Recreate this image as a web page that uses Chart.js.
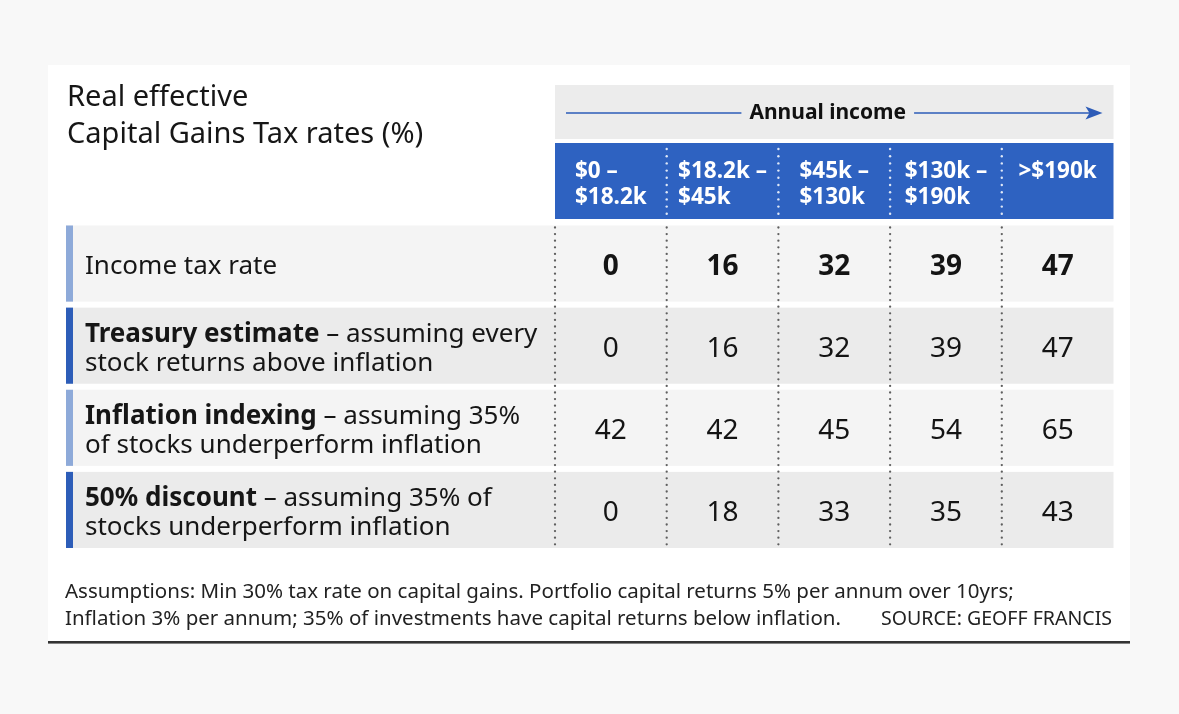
<!DOCTYPE html>
<html>
<head>
<meta charset="utf-8">
<script src="https://cdn.jsdelivr.net/npm/chart.js@4/dist/chart.umd.min.js"></script>
<style>
  html, body { margin: 0; padding: 0; background: #f8f8f8; }
  #wrap { width: 1179px; height: 714px; position: relative; }
</style>
</head>
<body>
<div id="wrap"><canvas id="myChart"></canvas></div>
<script>
"use strict";

// income bands (columns)
const bandKeys = ['b1', 'b2', 'b3', 'b4', 'b5'];
const bandLabels = [
  ['$0 \u2013', '$18.2k'],
  ['$18.2k \u2013', '$45k'],
  ['$45k \u2013', '$130k'],
  ['$130k \u2013', '$190k'],
  ['>$190k']
];

// rows
const rowKeys = ['income', 'treasury', 'indexing', 'discount'];
const rowLabels = [
  [['', 'Income tax rate']],
  [['Treasury estimate', ' \u2013 assuming every'], ['', 'stock returns above inflation']],
  [['Inflation indexing', ' \u2013 assuming 35%'], ['', 'of stocks underperform inflation']],
  [['50% discount', ' \u2013 assuming 35% of'], ['', 'stocks underperform inflation']]
];

// values (%)
const incomeTaxRate = [0, 16, 32, 39, 47];
const treasuryEstimate = [0, 16, 32, 39, 47];
const inflationIndexing = [42, 42, 45, 54, 65];
const fiftyDiscount = [0, 18, 33, 35, 43];
const rowValues = [incomeTaxRate, treasuryEstimate, inflationIndexing, fiftyDiscount];

const titleLines = ['Real effective', 'Capital Gains Tax rates (%)'];
const headerTitle = 'Annual income';
const footLines = [
  'Assumptions: Min 30% tax rate on capital gains. Portfolio capital returns 5% per annum over 10yrs;',
  'Inflation 3% per annum; 35% of investments have capital returns below inflation.'
];
const sourceText = 'SOURCE: GEOFF FRANCIS';

const FONT = '"Noto Sans", "Open Sans", sans-serif';
const blue = '#2e62c1';
const barColors = ['#8eaad9', '#2d5db8', '#8eaad9', '#2d5db8'];
const rowFills = ['#f4f4f4', '#ebebeb', '#f4f4f4', '#ebebeb'];

const points = [];
rowKeys.forEach((rk, r) => {
  bandKeys.forEach((bk, i) => points.push({ x: bk, y: rk, v: rowValues[r][i], r }));
});

const dotLine = (ctx, x, y0, y1, step, color, rad) => {
  ctx.fillStyle = color;
  for (let y = y0; y <= y1; y += step) {
    ctx.beginPath();
    ctx.arc(x, y, rad, 0, Math.PI * 2);
    ctx.fill();
  }
};

const tablePlugin = {
  id: 'table',
  beforeDraw(chart) {
    const { ctx } = chart;
    const x = chart.scales.x, y = chart.scales.y;
    const halfW = (x.getPixelForValue(1) - x.getPixelForValue(0)) / 2;
    const halfH = (y.getPixelForValue(1) - y.getPixelForValue(0)) / 2;
    ctx.save();
    // page + panel
    ctx.fillStyle = '#f8f8f8';
    ctx.fillRect(0, 0, chart.width, chart.height);
    ctx.fillStyle = '#ffffff';
    ctx.fillRect(48, 65, 1082, 579);

    // title
    ctx.fillStyle = '#161616';
    ctx.font = `29px ${FONT}`;
    ctx.textBaseline = 'alphabetic';
    ctx.fillText(titleLines[0], 67, 106);
    ctx.fillText(titleLines[1], 67, 143);

    // header bands
    ctx.fillStyle = '#ececec';
    ctx.fillRect(x.left, 85, x.right - x.left, 54);
    ctx.fillStyle = blue;
    ctx.fillRect(x.left, 143, x.right - x.left, 76);

    // arrow + "Annual income"
    const cx = (x.left + 11 + x.right - 24) / 2;
    ctx.font = `bold 21px ${FONT}`;
    const tw = ctx.measureText(headerTitle).width;
    ctx.fillStyle = '#111';
    ctx.textAlign = 'center';
    ctx.textBaseline = 'middle';
    ctx.fillText(headerTitle, cx, 113);
    ctx.strokeStyle = '#2d5cb8';
    ctx.lineWidth = 1.6;
    ctx.beginPath();
    ctx.moveTo(x.left + 11, 113);
    ctx.lineTo(cx - tw / 2 - 8, 113);
    ctx.moveTo(cx + tw / 2 + 8, 113);
    ctx.lineTo(x.right - 20, 113);
    ctx.stroke();
    ctx.fillStyle = '#2d5cb8';
    ctx.beginPath();
    ctx.moveTo(x.right - 11, 113);
    ctx.lineTo(x.right - 28, 106.5);
    ctx.lineTo(x.right - 24, 113);
    ctx.lineTo(x.right - 28, 119.5);
    ctx.closePath();
    ctx.fill();

    // column headings
    ctx.fillStyle = '#ffffff';
    ctx.textAlign = 'left';
    ctx.textBaseline = 'alphabetic';
    ctx.font = `bold 22.5px ${FONT}`;
    bandLabels.forEach((lines, i) => {
      const c = x.getPixelForValue(i);
      const w = Math.max(...lines.map(l => ctx.measureText(l).width));
      lines.forEach((l, k) => ctx.fillText(l, c - w / 2, 178 + k * 26, halfW * 2 - 12));
    });
    for (let i = 1; i < bandKeys.length; i++) {
      dotLine(ctx, x.getPixelForValue(i) - halfW, 149, 214, 7.2, '#dfe8f7', 1.2);
    }

    // rows
    rowKeys.forEach((rk, r) => {
      const cy = y.getPixelForValue(r);
      ctx.fillStyle = rowFills[r];
      ctx.fillRect(66, cy - halfH + 3, x.right - 66, halfH * 2 - 6);
      ctx.fillStyle = barColors[r];
      ctx.fillRect(66, cy - halfH + 3, 7, halfH * 2 - 6);

      // label text
      const lines = rowLabels[r];
      const base = lines.length === 1 ? [cy + 10] : [cy - 4, cy + 25.5];
      ctx.fillStyle = '#161616';
      lines.forEach(([b, rest], k) => {
        let px = 85;
        if (b) {
          ctx.font = `bold 26px ${FONT}`;
          ctx.fillText(b, px, base[k]);
          px += ctx.measureText(b).width;
        }
        ctx.font = `26px ${FONT}`;
        ctx.fillText(rest, px, base[k]);
      });
    });

    // dotted dividers in body
    const top = y.getPixelForValue(0) - halfH + 3;
    const bot = y.getPixelForValue(rowKeys.length - 1) + halfH - 3;
    for (let i = 0; i < bandKeys.length; i++) {
      dotLine(ctx, x.getPixelForValue(i) - halfW, top + 2, bot, 6.6, '#5e5e5e', 1.15);
    }

    // footer
    ctx.fillStyle = '#222';
    ctx.font = `20.5px ${FONT}`;
    ctx.fillText(footLines[0], 65, 598, 975);
    ctx.fillText(footLines[1], 65, 625, 793);
    ctx.textAlign = 'right';
    ctx.fillText(sourceText, 1112, 625, 231);
    ctx.fillStyle = '#333';
    ctx.fillRect(48, 641, 1082, 2.6);
    ctx.restore();
  },
  afterDatasetsDraw(chart) {
    const { ctx } = chart;
    const meta = chart.getDatasetMeta(0);
    ctx.save();
    ctx.fillStyle = '#141414';
    ctx.textAlign = 'center';
    ctx.textBaseline = 'alphabetic';
    meta.data.forEach((el, idx) => {
      const p = points[idx];
      ctx.font = `${p.r === 0 ? 'bold ' : ''}28px ${FONT}`;
      ctx.fillText(String(p.v), el.x, el.y + 11.5);
    });
    ctx.restore();
  }
};

const ctx = document.getElementById('myChart').getContext('2d');

new Chart(ctx, {
  type: 'scatter',
  data: {
    datasets: [{
      label: 'Real effective CGT rate',
      data: points,
      pointRadius: 0,
      pointHoverRadius: 0
    }]
  },
  options: {
    animation: false,
    responsive: true,
    maintainAspectRatio: false,
    layout: { padding: { left: 555, right: 65.5, top: 222.5, bottom: 163 } },
    plugins: {
      legend: { display: false },
      tooltip: { enabled: false },
      title: { display: false }
    },
    scales: {
      x: { type: 'category', labels: bandKeys, offset: true, display: false },
      y: { type: 'category', labels: rowKeys, offset: true, display: false }
    }
  },
  plugins: [tablePlugin]
});
</script>
</body>
</html>
